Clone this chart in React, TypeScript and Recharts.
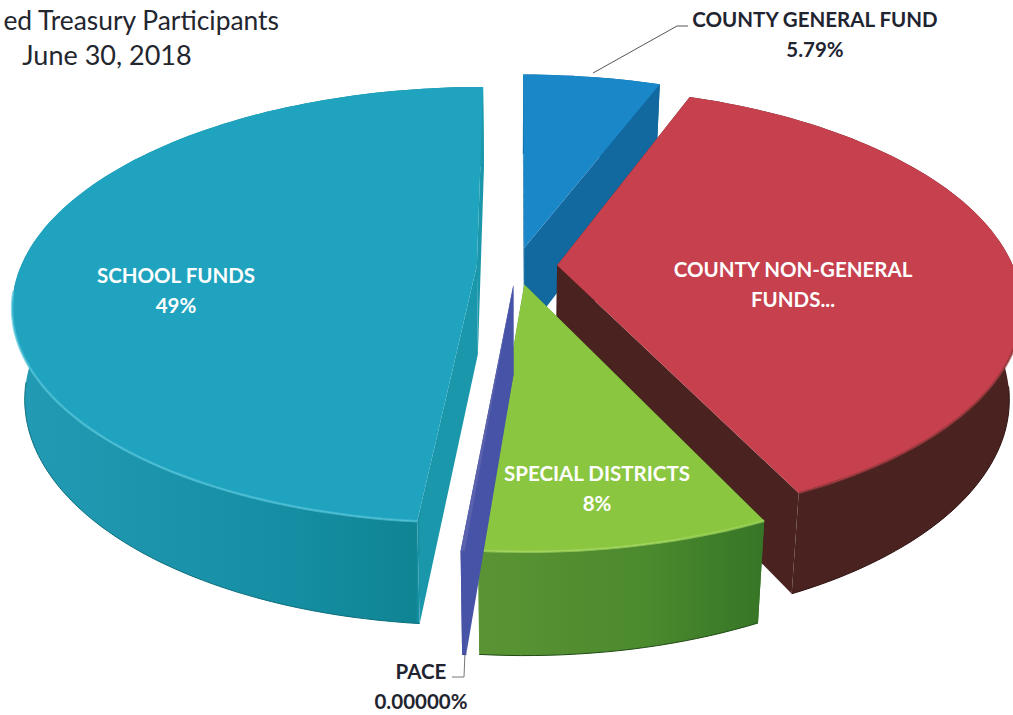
import { Pie, PieChart } from 'recharts';

// labels round these; PACE is printed as 0 but drawn as a sliver
const sliceNames = ['COUNTY GENERAL FUND', 'COUNTY NON-GENERAL FUNDS', 'SPECIAL DISTRICTS', 'PACE', 'SCHOOL FUNDS'];
const sliceValues = [5.79, 37.21, 8.4, 0.12, 48.6];
const labelLines = [
  ['COUNTY GENERAL FUND', '5.79%'],
  ['COUNTY NON-GENERAL', 'FUNDS...'],
  ['SPECIAL DISTRICTS', '8%'],
  ['PACE', '0.00000%'],
  ['SCHOOL FUNDS', '49%'],
];

const topColors = ['#1a87c9', '#c6404e', '#8ac640', '#5a62ad', '#20a3be'];
const sideFills = ['#12699f', '#4a2321', 'url(#greenSide)', '#4653a6', 'url(#schoolSide)'];
const edgeColors = ['#12699f', '#2e1212', '#1f4a14', '#3a4696', '#0c6f7e'];
const rimColors = ['none', '#8e3236', '#a5d860', 'none', '#52c3d8'];
const labelColors = ['#1f2430', '#ffffff', '#ffffff', '#1f2430', '#ffffff'];
const labelPos = [[815, 27], [793, 277], [597, 481], [421, 679], [176, 283]];

const chartData = sliceNames.map((name, i) => ({ name, value: sliceValues[i], index: i }));

// fake 3D: the flat pie is pushed through a small perspective projection
const SQUASH = 0.4627;
const PERSPECTIVE = 0.182;
const EXPLODE = 0.088;
const DEPTH = 89;
const BOTTOM_SCALE = 0.975;

const rad = (deg: number) => (deg * Math.PI) / 180;

const SlantedSlice = (props: any) => {
  const { cx, cy, outerRadius, startAngle, endAngle, index } = props;
  const mid = rad((startAngle + endAngle) / 2);
  const ox = EXPLODE * Math.cos(mid);
  const oy = EXPLODE * Math.sin(mid);

  const project = (r: number, deg: number, bottom: boolean) => {
    const u = r * Math.cos(rad(deg)) + ox;
    const v = r * Math.sin(rad(deg)) + oy;
    const w = 1 + PERSPECTIVE * v;
    const dx = (outerRadius * u) / w;
    const dy = (-outerRadius * SQUASH * v) / w;
    if (!bottom) return [cx + dx, cy + dy];
    return [cx + dx * BOTTOM_SCALE, cy + dy * BOTTOM_SCALE + DEPTH / w];
  };

  const steps = Math.max(2, Math.ceil(Math.abs(startAngle - endAngle) / 1.5));
  const angles = Array.from({ length: steps + 1 }, (_, i) => startAngle + ((endAngle - startAngle) * i) / steps);
  const topArc = angles.map(a => project(1, a, false));
  const bottomArc = angles.map(a => project(1, a, true));
  const apexTop = project(0, 0, false);
  const apexBottom = project(0, 0, true);
  // the bevel and the dark edge only show on the side facing the viewer
  const frontAngles = angles.filter(a => Math.sin(rad(a)) < -0.12);
  const rimArc = frontAngles.map(a => project(1, a, false));
  const edgeArc = frontAngles.map(a => project(1, a, true));

  const toPath = (pts: number[][], close = true) =>
    'M' + pts.map(p => `${p[0].toFixed(1)},${p[1].toFixed(1)}`).join('L') + (close ? 'Z' : '');

  const sideFill = sideFills[index];
  return (
    <g>
      <path d={toPath([apexTop, apexBottom, bottomArc[0], topArc[0]])} fill={sideFill} />
      <path d={toPath([apexTop, apexBottom, bottomArc[steps], topArc[steps]])} fill={sideFill} />
      <path d={toPath([...topArc, ...[...bottomArc].reverse()])} fill={sideFill} />
      {edgeArc.length > 1 && <path d={toPath(edgeArc, false)} fill="none" stroke={edgeColors[index]} strokeWidth={1} />}
      <path d={toPath([apexTop, ...topArc])} fill={topColors[index]} />
      {rimArc.length > 1 && <path d={toPath(rimArc, false)} fill="none" stroke={rimColors[index]} strokeOpacity={0.7} strokeWidth={2.5} />}
    </g>
  );
};

const SliceLabel = (props: any) => {
  const { index } = props;
  const [x, y] = labelPos[index];
  const lines = labelLines[index];
  return (
    <text textAnchor="middle" fontFamily="Lato" fontWeight={700} fontSize={20.5} fill={labelColors[index]}>
      <tspan x={x} y={y}>{lines[0]}</tspan>
      <tspan x={x} y={y + 30}>{lines[1]}</tspan>
    </text>
  );
};

export default function App() {
  return (
    <div style={{ position: 'absolute', left: 0, top: 0, width: 1013, height: 715, overflow: 'hidden', background: '#ffffff' }}>
      <PieChart width={1013} height={715} margin={{ top: 0, right: 0, bottom: 0, left: 0 }}>
        <defs>
          <linearGradient id="schoolSide" gradientUnits="userSpaceOnUse" x1="20" y1="0" x2="480" y2="0">
            <stop offset="0%" stopColor="#229ab3" />
            <stop offset="55%" stopColor="#168fa5" />
            <stop offset="86%" stopColor="#0f8493" />
            <stop offset="87%" stopColor="#1a97aa" />
            <stop offset="100%" stopColor="#1a97aa" />
          </linearGradient>
          <linearGradient id="greenSide" gradientUnits="userSpaceOnUse" x1="478" y1="0" x2="760" y2="0">
            <stop offset="0%" stopColor="#5a9434" />
            <stop offset="60%" stopColor="#4c8a2e" />
            <stop offset="100%" stopColor="#367626" />
          </linearGradient>
        </defs>
        <text x={279} y={30} textAnchor="end" fontFamily="Lato" fontSize={26.4} fill="#23262e">ed Treasury Participants</text>
        <text x={107} y={65} textAnchor="middle" fontFamily="Lato" fontSize={27} fill="#23262e">June 30, 2018</text>
        <Pie
          data={chartData}
          dataKey="value"
          nameKey="name"
          cx={517}
          cy={266}
          outerRadius={456}
          startAngle={90}
          endAngle={-270}
          stroke="none"
          shape={SlantedSlice}
          label={SliceLabel}
          labelLine={false}
          isAnimationActive={false}
        />
        <polyline points="593,73 677,26 688,26" fill="none" stroke="#555" strokeWidth={1} />
        <polyline points="465,652 464,677 452,677" fill="none" stroke="#777" strokeWidth={1} />
      </PieChart>
    </div>
  );
}
